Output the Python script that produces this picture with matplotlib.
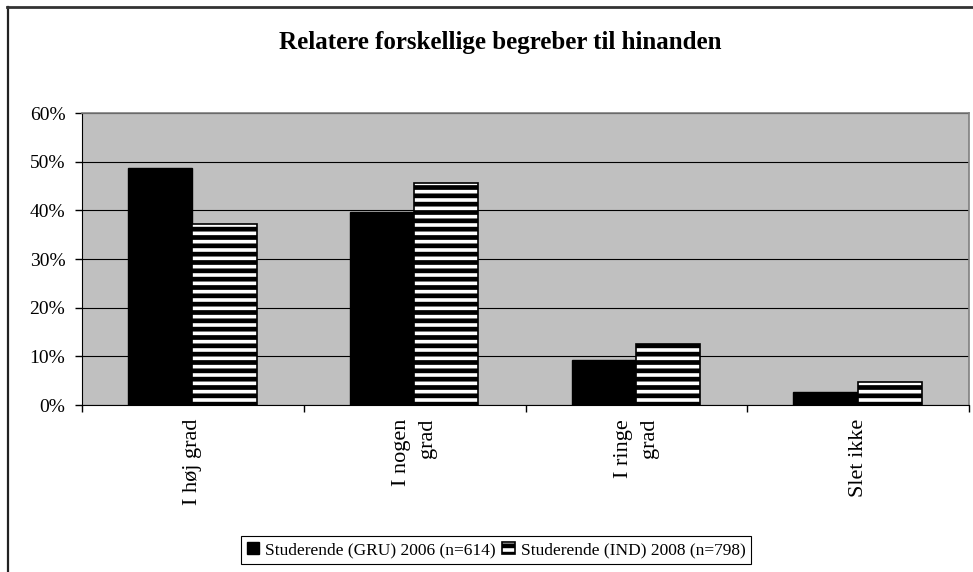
import matplotlib
matplotlib.use("Agg")
import matplotlib.pyplot as plt
import numpy as np
from matplotlib.lines import Line2D
from matplotlib.ticker import FuncFormatter

plt.rcParams['font.family'] = ['Liberation Serif', 'DejaVu Serif']
plt.rcParams['hatch.linewidth'] = 3.4

categories = ['I høj grad', 'I nogen\ngrad', 'I ringe\ngrad', 'Slet ikke']
gru_2006 = [48.7, 39.7, 9.2, 2.6]
ind_2008 = [37.1, 45.6, 12.6, 4.8]
series_names = ['Studerende (GRU) 2006 (n=614)', 'Studerende (IND) 2008 (n=798)']
title = 'Relatere forskellige begreber til hinanden'

W, H = 973, 572
fig = plt.figure(figsize=(W / 100, H / 100), dpi=100)

# plot area in pixel terms
left, right, top, bottom = 82, 969, 113, 405
ax = fig.add_axes([left / W, 1 - bottom / H, (right - left) / W, (bottom - top) / H])
ax.set_facecolor('#c0c0c0')

x = np.arange(len(categories))
w = 0.29
ax.bar(x - 0.147, gru_2006, w, color='black', edgecolor='black', linewidth=1,
       label=series_names[0], zorder=3)
ax.bar(x + 0.143, ind_2008, w, color='white', edgecolor='black', linewidth=1.2,
       hatch='--', label=series_names[1], zorder=3)

ax.set_xlim(-0.5, len(categories) - 0.5)
ax.set_ylim(0, 60)
ax.set_yticks(np.arange(0, 61, 10))
ax.yaxis.set_major_formatter(FuncFormatter(lambda v, p: '{:.0f}%'.format(v)))
ax.yaxis.grid(True, color='black', linewidth=0.8, zorder=0)
ax.set_axisbelow(True)

ax.set_xticks(np.arange(-0.5, len(categories)), labels=[])
ax.set_xticks(x, minor=True)
ax.set_xticklabels(categories, minor=True, rotation=90, va='top', ha='center',
                   multialignment='right', fontsize=16, linespacing=1.45)
ax.tick_params(axis='x', which='major', direction='out', length=5, width=1)
ax.tick_params(axis='x', which='minor', length=0, pad=10)
ax.tick_params(axis='y', direction='out', length=5, width=1, pad=7, labelsize=14)

for s in ['top', 'right']:
    ax.spines[s].set_color('#808080')
    ax.spines[s].set_linewidth(1.2)
ax.spines['left'].set_color('black')
ax.spines['bottom'].set_color('black')

fig.text(500 / W, 1 - 43 / H, title, ha='center', va='center',
         fontsize=18, fontweight='bold')

# chart frame (left and top edges only visible)
fig.add_artist(Line2D([7.5 / W, 7.5 / W], [0, 1 - 7 / H], color='#222222', lw=1.6))
fig.add_artist(Line2D([7 / W, 1], [1 - 7 / H, 1 - 7 / H], color='#333333', lw=2.0))

h, l = ax.get_legend_handles_labels()
leg = fig.legend(h, l, loc='center', bbox_to_anchor=(496 / W, 1 - 550 / H), ncol=2,
                 fontsize=12.5, handlelength=0.7, handleheight=0.7, handletextpad=0.35,
                 columnspacing=0.4, borderpad=0.35, fancybox=False, framealpha=1,
                 edgecolor='black')
leg.get_frame().set_linewidth(0.8)

fig.savefig('out.png', dpi=100, facecolor='white')
